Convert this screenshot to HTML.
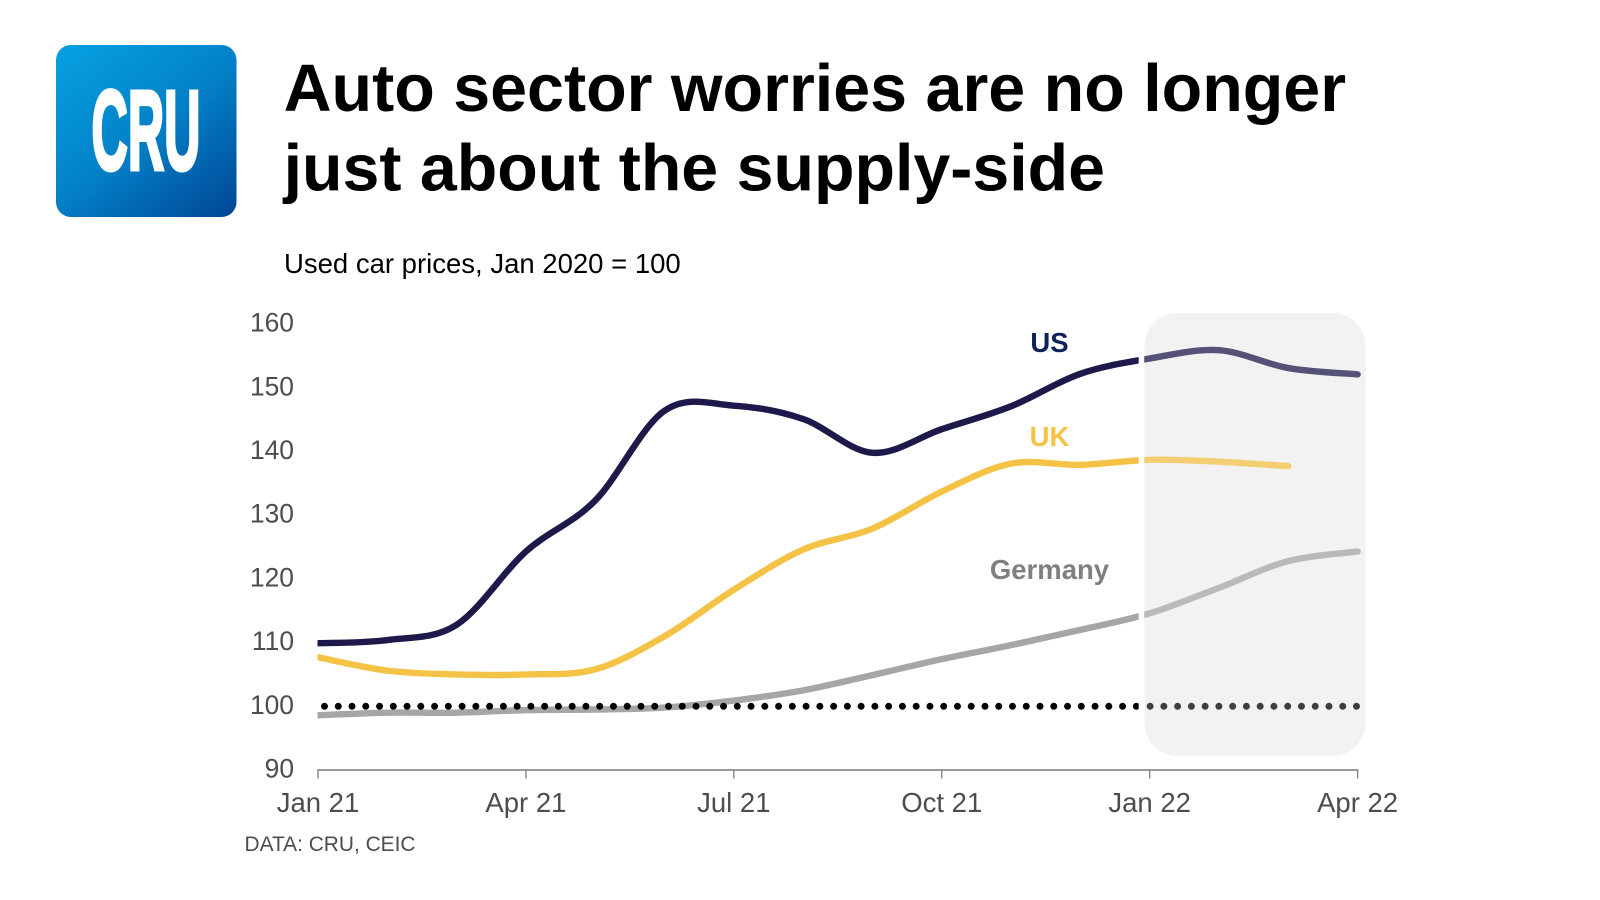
<!DOCTYPE html>
<html lang="en">
<head>
<meta charset="utf-8">
<title>Auto sector worries are no longer just about the supply-side</title>
<style>
  html, body { margin: 0; padding: 0; background: #fff; }
  body { width: 1600px; height: 900px; overflow: hidden; font-family: "Liberation Sans", Arial, sans-serif; }
  svg { display: block; }
  text { font-family: "Liberation Sans", Arial, sans-serif; }
</style>
</head>
<body>
<svg id="chart" width="1600" height="900" viewBox="0 0 1600 900" xmlns="http://www.w3.org/2000/svg">
  <defs>
    <linearGradient id="logoGrad" x1="0.08" y1="0" x2="0.92" y2="1">
      <stop offset="0" stop-color="#069fe1"/>
      <stop offset="0.5" stop-color="#0381c8"/>
      <stop offset="1" stop-color="#014a99"/>
    </linearGradient>
  </defs>
  <g>
    <rect x="56" y="45" width="180.5" height="172" rx="15" fill="url(#logoGrad)"/>
    <text x="91.5" y="169.5" font-size="113" font-weight="700" fill="#fff" stroke="#fff" stroke-width="4" textLength="109" lengthAdjust="spacingAndGlyphs">CRU</text>
  </g>
  <text x="283.6" y="111" font-size="66.4" font-weight="700" fill="#000">Auto sector worries are no longer</text>
  <text x="283.6" y="190.5" font-size="66.3" font-weight="700" fill="#000">just about the supply-side</text>
  <text x="284" y="273" font-size="27.5" fill="#000">Used car prices, Jan 2020 = 100</text>
  <text x="244.5" y="851" font-size="20.9" fill="#4d4d4d">DATA: CRU, CEIC</text>
  <rect x="1144.5" y="313" width="221" height="443" rx="33" fill="#f2f2f2"/>
  <g id="plot"></g>
  <text x="1049.5" y="352" font-size="27.5" font-weight="700" fill="#0e2259" text-anchor="middle">US</text>
  <text x="1049.5" y="446" font-size="27.5" font-weight="700" fill="#f4c245" text-anchor="middle">UK</text>
  <text x="1049.5" y="579" font-size="27.5" font-weight="700" fill="#7f7f7f" text-anchor="middle">Germany</text>
</svg>
<script>
const monthCount = [16];
const xTickLabels = ["Jan 21", "Apr 21", "Jul 21", "Oct 21", "Jan 22", "Apr 22"];
const xTickMonths = [0, 3, 6, 9, 12, 15];
const yTickValues = [90, 100, 110, 120, 130, 140, 150, 160];
const referenceValue = [100];
const usValues = [109.9, 110.4, 112.8, 124.3, 132.3, 146.4, 147.2, 145.1, 139.8, 143.5, 147.1, 152.2, 154.6, 155.9, 153.1, 152.1];
const ukValues = [107.7, 105.6, 105, 105, 105.8, 111, 118.3, 124.6, 127.9, 133.7, 138.1, 137.9, 138.7, 138.4, 137.7];
const germanyValues = [98.6, 99, 99, 99.4, 99.5, 99.8, 100.9, 102.5, 104.9, 107.4, 109.6, 112, 114.6, 118.6, 122.8, 124.3];

const SVG_NS = "http://www.w3.org/2000/svg";
const plot = document.getElementById("plot");
const xAxis = (m) => 318 + m * (1357.6 - 318) / 15;
const yAxis = (v) => 770 - (v - 90) * 6.37;

function make(tag, parent) {
  const el = document.createElementNS(SVG_NS, tag);
  parent.appendChild(el);
  return el;
}

function smoothPath(values) {
  const pts = values.map((v, i) => [xAxis(i), yAxis(v)]);
  let d = "M" + pts[0][0].toFixed(2) + " " + pts[0][1].toFixed(2);
  for (let i = 0; i < pts.length - 1; i++) {
    const p0 = pts[Math.max(i - 1, 0)];
    const p1 = pts[i];
    const p2 = pts[i + 1];
    const p3 = pts[Math.min(i + 2, pts.length - 1)];
    const c1x = p1[0] + (p2[0] - p0[0]) / 6;
    const c1y = p1[1] + (p2[1] - p0[1]) / 6;
    const c2x = p2[0] - (p3[0] - p1[0]) / 6;
    const c2y = p2[1] - (p3[1] - p1[1]) / 6;
    d += "C" + [c1x, c1y, c2x, c2y, p2[0], p2[1]].map((n) => n.toFixed(2)).join(" ");
  }
  return d;
}

// clip regions: solid history, a small white gap, then faded latest period
const defs = make("defs", plot);
const clipHistory = make("clipPath", defs);
clipHistory.setAttribute("id", "clip-history");
const clipHistoryRect = make("rect", clipHistory);
clipHistoryRect.setAttribute("x", xAxis(0) - 0.5);
clipHistoryRect.setAttribute("y", 0);
clipHistoryRect.setAttribute("width", xAxis(12) - 11 - xAxis(0) + 0.5);
clipHistoryRect.setAttribute("height", 900);
const clipLatest = make("clipPath", defs);
clipLatest.setAttribute("id", "clip-latest");
const clipLatestRect = make("rect", clipLatest);
clipLatestRect.setAttribute("x", xAxis(12) - 5.5);
clipLatestRect.setAttribute("y", 0);
clipLatestRect.setAttribute("width", 400);
clipLatestRect.setAttribute("height", 900);

// y axis tick labels
yTickValues.forEach((v) => {
  const t = make("text", plot);
  
  
  t.setAttribute("x", 294);
  t.setAttribute("y", yAxis(v) + 7.5);
  t.setAttribute("font-size", 26.4);
  t.setAttribute("fill", "#4d4d4d");
  t.setAttribute("text-anchor", "end");
  t.textContent = String(v);
});

// x axis
const axisLine = make("line", plot);


axisLine.setAttribute("x1", xAxis(0) - 0.8);
axisLine.setAttribute("x2", xAxis(15) + 0.8);
axisLine.setAttribute("y1", 770);
axisLine.setAttribute("y2", 770);
axisLine.setAttribute("stroke", "#8c8c8c");
axisLine.setAttribute("stroke-width", 1.8);

xTickMonths.forEach((m, i) => {
  const tick = make("line", plot);
  
  
  tick.setAttribute("x1", xAxis(m));
  tick.setAttribute("x2", xAxis(m));
  tick.setAttribute("y1", 770);
  tick.setAttribute("y2", 778.5);
  tick.setAttribute("stroke", "#8c8c8c");
  tick.setAttribute("stroke-width", 1.5);
  const t = make("text", plot);
  
  
  t.setAttribute("x", xAxis(m));
  t.setAttribute("y", 812);
  t.setAttribute("font-size", 27.5);
  t.setAttribute("fill", "#4d4d4d");
  t.setAttribute("text-anchor", "middle");
  t.textContent = xTickLabels[i];
});

// two passes: solid before the gap, faded inside the shaded region
const groupHistory = make("g", plot);


groupHistory.setAttribute("clip-path", "url(#clip-history)");
const groupLatest = make("g", plot);


groupLatest.setAttribute("clip-path", "url(#clip-latest)");
groupLatest.setAttribute("opacity", 0.74);

[groupHistory, groupLatest].forEach((group) => {
  const germany = make("path", group);
  
  
  germany.setAttribute("d", smoothPath(germanyValues));
  germany.setAttribute("fill", "none");
  germany.setAttribute("stroke", "#a6a6a6");
  germany.setAttribute("stroke-width", 6.4);
  germany.setAttribute("stroke-linecap", "round");
  germany.setAttribute("stroke-linejoin", "round");

  const ref = make("line", group);
  
  
  ref.setAttribute("x1", xAxis(0) + 6.5);
  ref.setAttribute("x2", xAxis(15));
  ref.setAttribute("y1", yAxis(referenceValue[0]));
  ref.setAttribute("y2", yAxis(referenceValue[0]));
  ref.setAttribute("stroke", "#000");
  ref.setAttribute("stroke-width", 7);
  ref.setAttribute("stroke-linecap", "round");
  ref.setAttribute("stroke-dasharray", "0 13.76");

  const uk = make("path", group);
  
  
  uk.setAttribute("d", smoothPath(ukValues));
  uk.setAttribute("fill", "none");
  uk.setAttribute("stroke", "#f4c245");
  uk.setAttribute("stroke-width", 6.4);
  uk.setAttribute("stroke-linecap", "round");
  uk.setAttribute("stroke-linejoin", "round");

  const us = make("path", group);
  
  
  us.setAttribute("d", smoothPath(usValues));
  us.setAttribute("fill", "none");
  us.setAttribute("stroke", "#1d1a4b");
  us.setAttribute("stroke-width", 6.4);
  us.setAttribute("stroke-linecap", "round");
  us.setAttribute("stroke-linejoin", "round");
});
</script>
</body>
</html>
